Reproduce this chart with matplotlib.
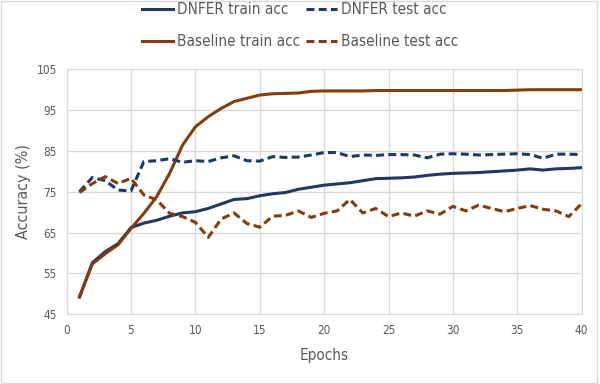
import matplotlib
matplotlib.use("Agg")
import matplotlib.pyplot as plt
from matplotlib.patches import Rectangle

### Data ###
epochs = list(range(1, 41))
dnfer_train = [49.2, 57.6, 60.3, 62.3, 66.2, 67.3, 68.0, 69.0, 69.8, 70.1,
               70.9, 72.0, 73.1, 73.3, 74.0, 74.5, 74.8, 75.6, 76.1, 76.6,
               76.9, 77.2, 77.7, 78.2, 78.3, 78.4, 78.6, 79.0, 79.3, 79.5,
               79.6, 79.7, 79.9, 80.1, 80.3, 80.6, 80.3, 80.6, 80.7, 80.9]
dnfer_test = [75.0, 78.5, 77.7, 75.4, 75.2, 82.4, 82.6, 83.1, 82.2, 82.6,
              82.4, 83.3, 83.8, 82.6, 82.5, 83.6, 83.4, 83.5, 84.0, 84.6,
              84.6, 83.6, 84.0, 83.9, 84.1, 84.1, 84.0, 83.3, 84.2, 84.3,
              84.2, 84.0, 84.1, 84.2, 84.3, 84.1, 83.2, 84.2, 84.2, 84.1]
base_train = [49.2, 57.3, 59.8, 62.0, 66.0, 69.7, 73.8, 79.5, 86.4, 90.9,
              93.4, 95.4, 97.1, 97.9, 98.7, 99.0, 99.1, 99.2, 99.6, 99.7,
              99.7, 99.7, 99.7, 99.8, 99.8, 99.8, 99.8, 99.8, 99.8, 99.8,
              99.8, 99.8, 99.8, 99.8, 99.9, 100.0, 100.0, 100.0, 100.0, 100.0]
base_test = [74.8, 77.0, 78.7, 77.0, 78.3, 74.2, 73.0, 69.7, 68.9, 67.5,
             63.8, 68.3, 69.8, 67.2, 66.3, 69.0, 69.2, 70.3, 68.7, 69.7,
             70.3, 73.1, 69.8, 70.9, 68.9, 69.8, 69.0, 70.3, 69.5, 71.4,
             70.3, 71.7, 70.9, 70.1, 70.9, 71.6, 70.7, 70.3, 68.9, 72.1]

yticks = [45, 55, 65, 75, 85, 95, 105]
xticks = [0, 5, 10, 15, 20, 25, 30, 35, 40]

blue = '#203864'
brown = '#843C0C'
grid_c = '#D9D9D9'
text_c = '#595959'

plt.rcParams['font.family'] = ['DejaVu Sans']
plt.rcParams['font.stretch'] = 'condensed'

fig = plt.figure(figsize=(6, 3.84), dpi=100)
ax = fig.add_axes([0.111, 0.182, 0.8585, 0.6375])

ax.plot(epochs, dnfer_train, color=blue, lw=2.2, label='DNFER train acc')
ax.plot(epochs, base_train, color=brown, lw=2.2, label='Baseline train acc')
ax.plot(epochs, dnfer_test, color=blue, lw=2.2, dashes=(2.6, 1.4), label='DNFER test acc')
ax.plot(epochs, base_test, color=brown, lw=2.2, dashes=(2.6, 1.4), label='Baseline test acc')

ax.set_xlim(0, 40)
ax.set_ylim(45, 105)
ax.set_xticks(xticks)
ax.set_yticks(yticks)
ax.grid(color=grid_c, lw=1)
ax.set_axisbelow(True)
ax.tick_params(length=0, labelsize=8.5, colors=text_c, pad=7)
for s in ax.spines.values():
    s.set_color(grid_c)
ax.set_xlabel('Epochs', fontsize=11, color=text_c, labelpad=8)
ax.set_ylabel('Accuracy (%)', fontsize=11.5, color=text_c, labelpad=4)

leg = fig.legend(loc='upper center', bbox_to_anchor=(0.5, 1.03), ncol=2, frameon=False,
                 fontsize=11, handlelength=2.05, columnspacing=0.35, handletextpad=0.25,
                 labelspacing=1.1)
for t in leg.get_texts():
    t.set_color(text_c)

fig.patches.append(Rectangle((0.001, 0.003), 0.994, 0.995, transform=fig.transFigure,
                             fill=False, edgecolor=grid_c, lw=1))

fig.savefig('out.png', dpi=100)
